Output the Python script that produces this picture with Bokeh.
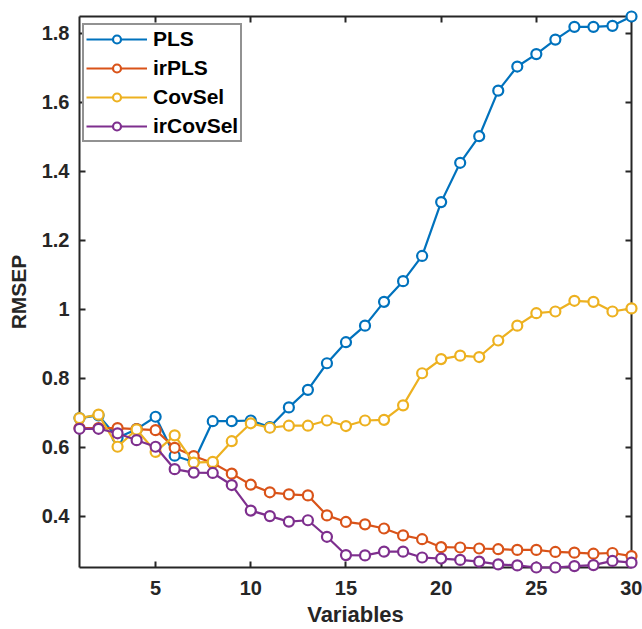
from bokeh.plotting import figure
from bokeh.models import Range1d, LinearAxis, FixedTicker, Legend, LegendItem
from bokeh.embed import file_html
from bokeh.resources import INLINE

# RMSEP versus number of selected variables for four methods
variables = list(range(1, 31))
pls = [0.684, 0.692, 0.627, 0.652, 0.688, 0.575, 0.557, 0.675, 0.675, 0.677,
       0.658, 0.715, 0.766, 0.843, 0.904, 0.952, 1.021, 1.081, 1.154, 1.310,
       1.424, 1.501, 1.633, 1.703, 1.739, 1.781, 1.818, 1.818, 1.821, 1.848]
irpls = [0.655, 0.655, 0.655, 0.652, 0.649, 0.598, 0.574, 0.554, 0.523, 0.491,
         0.469, 0.463, 0.460, 0.402, 0.383, 0.376, 0.364, 0.344, 0.333, 0.310,
         0.309, 0.306, 0.304, 0.302, 0.302, 0.296, 0.294, 0.291, 0.293, 0.284]
covsel = [0.684, 0.694, 0.601, 0.651, 0.586, 0.634, 0.555, 0.557, 0.617, 0.669,
          0.656, 0.662, 0.662, 0.677, 0.661, 0.677, 0.679, 0.721, 0.814, 0.855,
          0.865, 0.861, 0.909, 0.952, 0.988, 0.993, 1.024, 1.021, 0.993, 1.002]
ircovsel = [0.653, 0.653, 0.640, 0.620, 0.601, 0.536, 0.526, 0.525, 0.490, 0.416,
            0.400, 0.384, 0.388, 0.340, 0.287, 0.286, 0.297, 0.297, 0.280, 0.277,
            0.273, 0.268, 0.260, 0.257, 0.251, 0.251, 0.255, 0.258, 0.270, 0.265]

series_names = ["PLS", "irPLS", "CovSel", "irCovSel"]
series_values = [pls, irpls, covsel, ircovsel]
series_colors = ["#0072BD", "#D95319", "#EDB120", "#7E2F8E"]

x_ticks = [5, 10, 15, 20, 25, 30]
y_ticks = [0.4, 0.6, 0.8, 1.0, 1.2, 1.4, 1.6, 1.8]

FONT = "Liberation Sans"
INK = "#262626"

all_vals = [v for s in series_values for v in s]
p = figure(width=642, height=629, output_backend="svg", toolbar_location=None,
           x_range=Range1d(min(variables), max(variables)),
           y_range=Range1d(min(all_vals), max(all_vals)),
           min_border_left=79, min_border_right=11,
           min_border_top=16, min_border_bottom=61)
p.outline_line_color = None
p.grid.visible = False
p.background_fill_color = "white"
p.border_fill_color = "white"


def style_axis(ax, ticks, labels=True):
    ax.ticker = FixedTicker(ticks=ticks)
    ax.minor_tick_line_color = None
    ax.major_tick_in = 6
    ax.major_tick_out = 0
    ax.axis_line_width = 2
    ax.axis_line_color = INK
    ax.major_tick_line_width = 2
    ax.major_tick_line_color = INK
    ax.major_label_text_font = FONT
    ax.major_label_text_font_style = "bold"
    ax.major_label_text_color = INK
    if labels:
        ax.major_label_text_font_size = "20px"
    else:
        # mirrored box axis: ticks only
        ax.major_label_overrides = {t: "" for t in ticks}
        ax.major_label_text_font_size = "1px"
        ax.major_label_standoff = 0


style_axis(p.xaxis[0], x_ticks)
style_axis(p.yaxis[0], y_ticks)
p.xaxis[0].major_label_standoff = 13
p.yaxis[0].major_label_standoff = 10
p.yaxis[0].formatter.use_scientific = False

for ax, lab, size in ((p.xaxis[0], "Variables", "22px"), (p.yaxis[0], "RMSEP", "21px")):
    ax.axis_label = lab
    ax.axis_label_text_font = FONT
    ax.axis_label_text_font_style = "bold"
    ax.axis_label_text_font_size = size
    ax.axis_label_text_color = INK
p.xaxis[0].axis_label_standoff = 4
p.yaxis[0].axis_label_standoff = 9

top_ax = LinearAxis()
style_axis(top_ax, x_ticks, labels=False)
p.add_layout(top_ax, "above")
right_ax = LinearAxis()
style_axis(right_ax, y_ticks, labels=False)
p.add_layout(right_ax, "right")

items = []
for name, vals, col in zip(series_names, series_values, series_colors):
    ln = p.line(variables, vals, line_color=col, line_width=2.2, level="annotation")
    sc = p.scatter(variables, vals, marker="circle", size=10, line_width=2.2,
                   line_color=col, fill_color="white", level="annotation")
    items.append(LegendItem(label=name, renderers=[ln, sc]))

# legend anchored by its lower-left corner, in screen px from the frame's lower-left
legend = Legend(items=items, location=(3, 425), margin=0,
                label_text_font=FONT, label_text_font_style="bold",
                label_text_font_size="21px", label_text_color="black",
                border_line_color=INK, border_line_width=2,
                background_fill_color="white", background_fill_alpha=1.0,
                glyph_width=61, glyph_height=20, label_height=20,
                label_standoff=6, spacing=5, padding=2)
legend.level = "overlay"
p.add_layout(legend)

open("out.html", "w").write(file_html(p, INLINE))
